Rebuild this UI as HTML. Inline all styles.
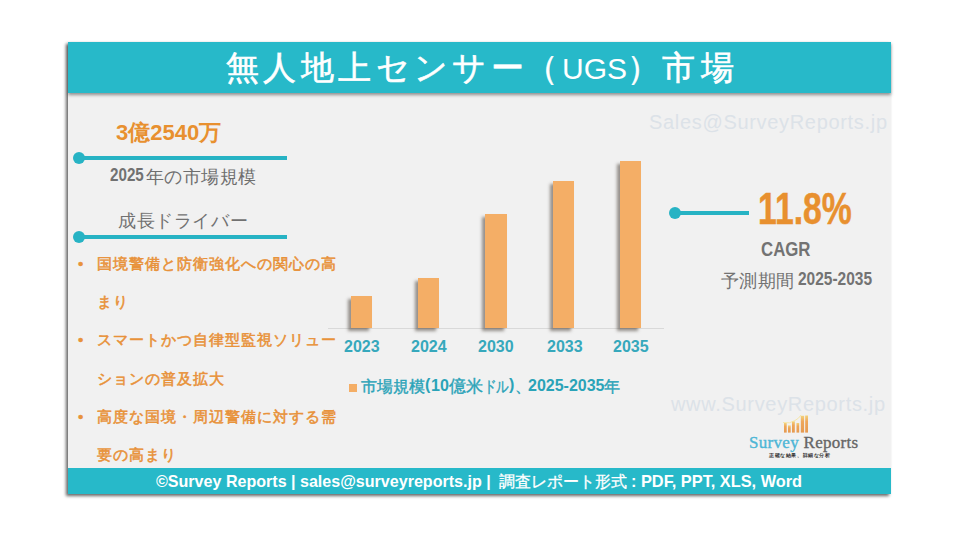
<!DOCTYPE html>
<html lang="ja">
<head>
<meta charset="utf-8">
<style>
html,body{margin:0;padding:0;}
body{width:960px;height:540px;background:#fff;position:relative;overflow:hidden;font-family:"Liberation Sans",sans-serif;}
.abs{position:absolute;white-space:nowrap;}
#card{position:absolute;left:68px;top:42px;width:823px;height:452px;background:#f1f1f1;box-shadow:-2px 2px 3px rgba(0,0,0,0.6);}
#title{position:absolute;left:68px;top:42px;width:823px;height:51px;background:#27b9c9;box-shadow:0 2px 3px rgba(50,50,50,0.5);}
.tt{position:absolute;top:46px;font-size:33px;color:#fff;letter-spacing:4px;-webkit-text-stroke:0.6px #fff;white-space:nowrap;}
.tt .ugs{font-weight:normal;letter-spacing:0;font-size:30px;-webkit-text-stroke:0;}
#footer{position:absolute;left:68px;top:468px;width:823px;height:26px;background:#27b9c9;}
.ft{position:absolute;top:472px;font-size:17px;font-weight:bold;color:#fff;letter-spacing:0;white-space:nowrap;transform:scaleX(0.945);transform-origin:0 0;}
.lg{position:absolute;top:377px;color:#2aa3b8;white-space:nowrap;-webkit-text-stroke:0.4px #2aa3b8;}
.line{position:absolute;height:4px;background:#27b3c4;}
.dot{position:absolute;width:12px;height:12px;border-radius:50%;background:#27b3c4;}
.orange{color:#e8902f;}
.bar{position:absolute;width:21px;background:#f4ae66;box-shadow:-3px 3px 3px rgba(60,50,40,0.5);}
.yr{position:absolute;top:338px;font-size:16px;font-weight:bold;color:#36a8bc;}
.bul{position:absolute;left:78px;font-size:15px;color:#e8923a;letter-spacing:1px;-webkit-text-stroke:0.55px #e8923a;white-space:nowrap;}
.bt{left:97px;}
.wm{position:absolute;font-size:20px;color:#dce2e8;letter-spacing:0.68px;white-space:nowrap;}
</style>
</head>
<body>
<div id="card"></div>
<div id="title"></div>
<div class="tt" style="left:226px;letter-spacing:4.4px;">無人地上センサー</div>
<div class="tt" style="left:525px;">（<b class="ugs">UGS</b>）</div>
<div class="tt" style="left:662px;letter-spacing:5.5px;">市場</div>

<!-- left column -->
<div class="abs orange" style="left:116px;top:118px;font-size:22px;font-weight:bold;">3億2540万</div>
<div class="dot" style="left:73px;top:152px;"></div>
<div class="line" style="left:78px;top:156px;width:209px;"></div>
<div class="abs cond" style="left:110px;top:164px;font-size:19px;font-weight:bold;color:#717171;transform:scaleX(0.8);transform-origin:0 0;">2025</div>
<div class="abs" style="left:145.5px;top:165px;font-size:18px;color:#6e6e6e;letter-spacing:0.5px;">年の市場規模</div>
<div class="abs" style="left:118px;top:209px;font-size:18px;color:#717171;letter-spacing:0.6px;">成長ドライバー</div>
<div class="dot" style="left:73px;top:231px;"></div>
<div class="line" style="left:78px;top:235px;width:209px;"></div>

<div class="bul" style="top:255px;">•</div><div class="bul bt" style="top:255px;">国境警備と防衛強化への関心の高</div>
<div class="bul bt" style="top:293px;">まり</div>
<div class="bul" style="top:331px;">•</div><div class="bul bt" style="top:331px;">スマートかつ自律型監視ソリュー</div>
<div class="bul bt" style="top:370px;">ションの普及拡大</div>
<div class="bul" style="top:408px;">•</div><div class="bul bt" style="top:408px;">高度な国境・周辺警備に対する需</div>
<div class="bul bt" style="top:446px;">要の高まり</div>

<!-- chart -->
<div class="abs" style="left:328px;top:328px;width:336px;height:1px;background:#d9d9d9;"></div>
<div class="bar" style="left:351px;top:296px;height:32px;"></div>
<div class="bar" style="left:418px;top:278px;height:50px;"></div>
<div class="bar" style="left:485px;top:214px;height:114px;width:22px;"></div>
<div class="bar" style="left:553px;top:181px;height:147px;"></div>
<div class="bar" style="left:620px;top:161px;height:167px;"></div>
<div class="yr" style="left:344px;">2023</div>
<div class="yr" style="left:411px;">2024</div>
<div class="yr" style="left:478px;">2030</div>
<div class="yr" style="left:547px;">2033</div>
<div class="yr" style="left:613px;">2035</div>
<div class="abs" style="left:349px;top:384px;width:8px;height:8px;background:#f4ae66;"></div>
<div class="lg" style="left:361px;font-size:15.6px;">市場規模</div>
<div class="lg" style="left:425px;font-size:16px;-webkit-text-stroke:0;font-weight:bold;top:376px;">(</div>
<div class="lg" style="left:431px;font-size:16px;-webkit-text-stroke:0;font-weight:bold;">10</div>
<div class="lg" style="left:449px;font-size:17px;top:375px;">億米</div>
<div class="lg" style="left:484px;font-size:16px;transform:scaleX(0.78);transform-origin:0 0;">ドル</div>
<div class="lg" style="left:509px;font-size:16px;-webkit-text-stroke:0;font-weight:bold;top:376px;">)</div>
<div class="lg" style="left:515px;font-size:16px;">、</div>
<div class="lg" style="left:528px;font-size:16px;-webkit-text-stroke:0;font-weight:bold;">2025-2035</div>
<div class="lg" style="left:604px;font-size:16px;">年</div>

<!-- right -->
<div class="wm" style="left:649px;top:111px;">Sales@SurveyReports.jp</div>
<div class="dot" style="left:669px;top:207px;"></div>
<div class="line" style="left:675px;top:211px;width:74px;"></div>
<div class="abs orange" style="left:758px;top:185px;font-size:43.5px;font-weight:bold;transform:scaleX(0.775);transform-origin:0 0;-webkit-text-stroke:0.5px #e8902f;">11.8%</div>
<div class="abs" style="left:761px;top:237px;font-size:20.5px;font-weight:bold;color:#737373;transform:scaleX(0.82);transform-origin:0 0;">CAGR</div>
<div class="abs" style="left:721px;top:269px;font-size:18px;color:#737373;letter-spacing:0.3px;">予測期間</div>
<div class="abs" style="left:798px;top:268px;font-size:19px;font-weight:bold;color:#737373;transform:scaleX(0.815);transform-origin:0 0;">2025-2035</div>
<div class="wm" style="left:671px;top:393px;">www.SurveyReports.jp</div>

<!-- logo -->
<svg class="abs" style="left:780px;top:412px;" width="32" height="24" viewBox="780 412 32 24">
<defs><linearGradient id="bg" x1="0" y1="0" x2="0" y2="1"><stop offset="0" stop-color="#f3d27a"/><stop offset="0.35" stop-color="#eea65a"/><stop offset="1" stop-color="#e69a50"/></linearGradient></defs>
<rect x="784" y="423" width="2.7" height="9.6" fill="url(#bg)"/>
<rect x="788" y="425.4" width="2.7" height="7.2" fill="url(#bg)"/>
<rect x="792" y="421.3" width="2.8" height="11.3" fill="url(#bg)"/>
<rect x="796.5" y="423" width="2.7" height="9.6" fill="url(#bg)"/>
<rect x="800.8" y="415.8" width="3.3" height="16.8" fill="url(#bg)"/>
<rect x="805.2" y="415.5" width="2.8" height="17.1" fill="url(#bg)"/>
<path d="M783 422.5 Q790 424 795 420.5 Q799 418.5 801 415" stroke="#f6e39a" stroke-width="1" fill="none" opacity="0.8"/>
</svg>
<div class="abs" style="left:749px;top:433px;font-family:'Liberation Serif',serif;font-size:17px;letter-spacing:0.3px;"><span style="color:#4db6d6;-webkit-text-stroke:0.35px #4db6d6;">Survey</span> <span style="color:#666;-webkit-text-stroke:0.35px #666;">Reports</span></div>
<div class="abs" style="left:769px;top:452px;font-size:5.4px;font-weight:bold;color:#333;letter-spacing:0.6px;">正確な結果、詳細な分析</div>

<div id="footer"></div>
<div class="ft" style="left:156px;">©Survey Reports | sales@surveyreports.jp |</div>
<div class="ft" style="left:499px;font-weight:normal;letter-spacing:0;font-size:15.7px;top:472px;-webkit-text-stroke:0.3px #fff;transform:none;">調査レポート形式</div>
<div class="ft" style="left:631px;transform:scaleX(0.96);">: PDF, PPT, XLS, Word</div>
</body>
</html>
